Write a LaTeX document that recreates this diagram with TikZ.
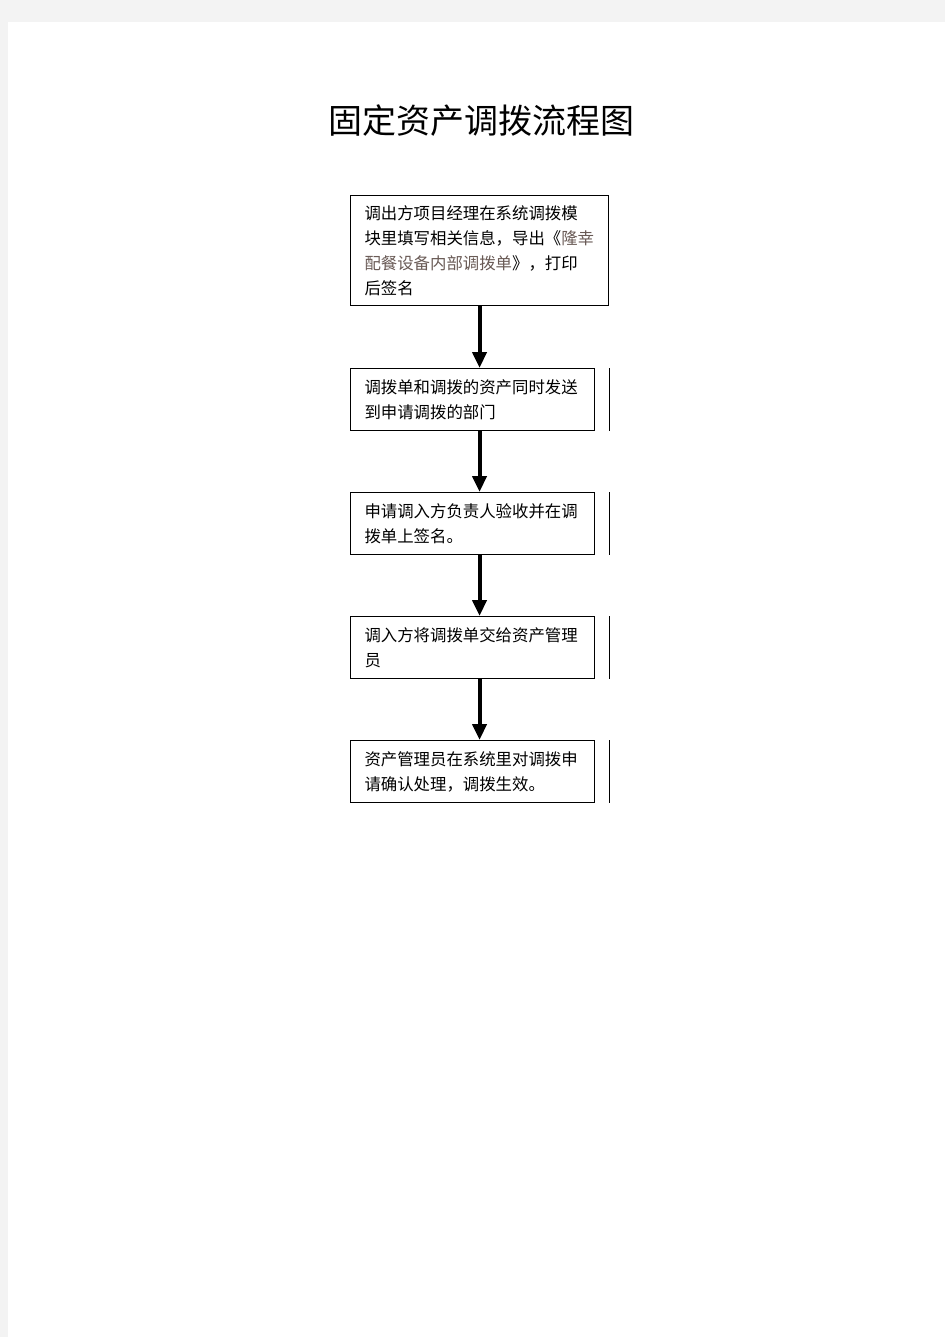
\documentclass[tikz,border=0pt]{standalone}
\usepackage{fontspec}
\setmainfont{Noto Sans CJK SC}
\usepackage{tikz}
\usetikzlibrary{arrows.meta}
\definecolor{pagegray}{RGB}{243,243,243}
\definecolor{linkcol}{RGB}{105,90,85}
\tikzstyle{stepbox}=[rectangle, draw, line width=0.8pt, anchor=north west, align=left, inner xsep=10.5pt, inner ysep=0pt, font=\fontsize{12.3}{18.75}\selectfont]
\tikzstyle{wide}=[text width=172.5pt, minimum height=82.5pt]
\tikzstyle{narrow}=[text width=162pt, minimum height=46.5pt]
\tikzstyle{flow}=[line width=3pt, -{Triangle[width=10.5pt, length=12pt]}]

\begin{document}
\begin{tikzpicture}[x=0.75pt, y=-0.75pt]
                    \useasboundingbox (0,0) rectangle (945,1337);
                    \fill[pagegray] (0,0) rectangle (945,1337);
                    \fill[white] (8,22) rectangle (945,1337);
                    \node[font=\fontsize{25.5}{30}\selectfont] (title) at (481,121) {固定资产调拨流程图};
                    \node[stepbox, wide] (1) at (350,195) {调出方项目经理在系统调拨模\\块里填写相关信息，导出《\textcolor{linkcol}{隆幸}\\\textcolor{linkcol}{配餐设备内部调拨单}》，打印\\后签名};
                    \node[stepbox, narrow] (2) at (350,368) {调拨单和调拨的资产同时发送\\到申请调拨的部门};
                    \node[stepbox, narrow] (3) at (350,492) {申请调入方负责人验收并在调\\拨单上签名。};
                    \node[stepbox, narrow] (4) at (350,616) {调入方将调拨单交给资产管理\\员};
                    \node[stepbox, narrow] (5) at (350,740) {资产管理员在系统里对调拨申\\请确认处理，调拨生效。};
                    \draw[flow] (1.south)--(1.south |- 2.north);
                    \draw[flow] (1.south |- 2.south)--(1.south |- 3.north);
                    \draw[flow] (1.south |- 3.south)--(1.south |- 4.north);
                    \draw[flow] (1.south |- 4.south)--(1.south |- 5.north);
                    \draw[line width=0.8pt] (2.north -| 1.east)--(2.south -| 1.east) (3.north -| 1.east)--(3.south -| 1.east);
                    \draw[line width=0.8pt] (4.north -| 1.east)--(4.south -| 1.east) (5.north -| 1.east)--(5.south -| 1.east);
                \end{tikzpicture}
\end{document}
